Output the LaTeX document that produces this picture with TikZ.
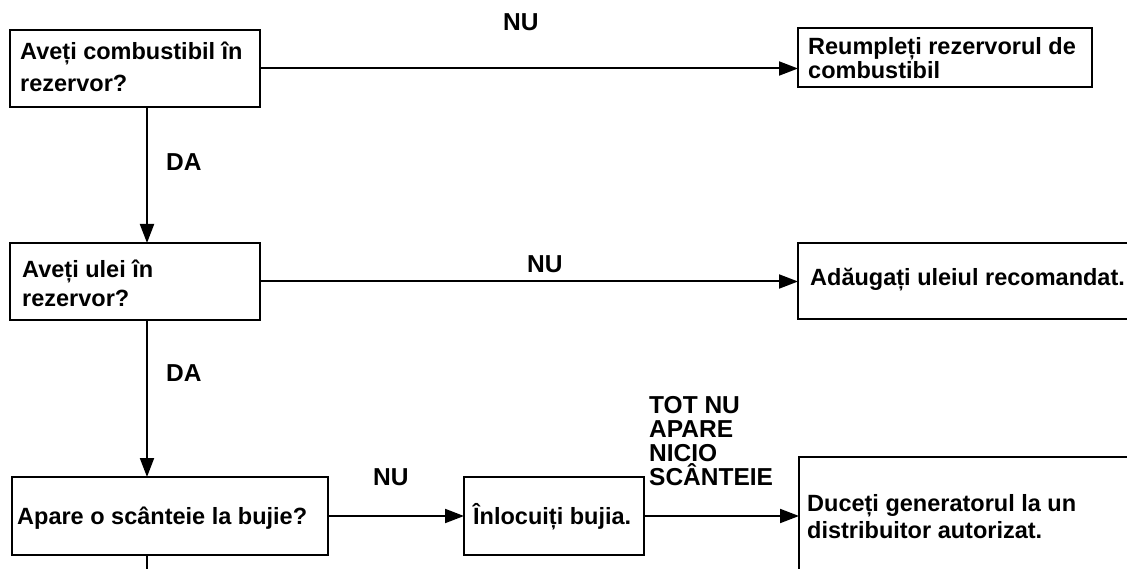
\documentclass[tikz,border=0pt]{standalone}
\usepackage{fontspec}
\setmainfont{Liberation Sans}
\usetikzlibrary{arrows.meta}
\begin{document}
\begin{tikzpicture}[x=1pt,y=-1pt,
  box/.style={draw, line width=2pt, rectangle, anchor=north west, inner sep=0pt, outer sep=0pt},
  txt/.style={font=\bfseries\fontsize{23.5}{28}\selectfont, anchor=base west, inner sep=0pt},
  lbl/.style={font=\bfseries\fontsize{24.5}{27}\selectfont, anchor=base west, inner sep=0pt},
  conn/.style={line width=2pt, -{Triangle[length=19pt,width=14pt]}},
  plain/.style={line width=2pt}]
\useasboundingbox (0,0) rectangle (1127,569);
\fill[white] (0,0) rectangle (1127,569);
\clip (0,0) rectangle (1127,569);

% boxes
\node[box, minimum width=250pt, minimum height=77pt] (b1) at (10,30) {};
\node[box, minimum width=294pt, minimum height=59pt] (b2) at (798,28) {};
\node[box, minimum width=250pt, minimum height=77pt] (b3) at (10,243) {};
\node[box, minimum width=360pt, minimum height=76pt] (b4) at (798,243) {};
\node[box, minimum width=316pt, minimum height=78pt] (b5) at (12,477) {};
\node[box, minimum width=180pt, minimum height=78pt] (b6) at (464,477) {};
\node[box, minimum width=360pt, minimum height=160pt] (b7) at (799,457) {};

% box texts
\node[txt] (t1a) at (20,60) {Aveți combustibil în};
\node[txt] (t1b) at (20,92) {rezervor?};
\node[txt] (t2a) at (808,55) {Reumpleți rezervorul de};
\node[txt] (t2b) at (808,79) {combustibil};
\node[txt] (t3a) at (22,278) {Aveți ulei în};
\node[txt] (t3b) at (22,306) {rezervor?};
\node[txt] (t4) at (810,286) {Adăugați uleiul recomandat.};
\node[txt] (t5) at (17,524) {Apare o scânteie la bujie?};
\node[txt] (t6) at (473,524) {Înlocuiți bujia.};
\node[txt] (t7a) at (807,511) {Duceți generatorul la un};
\node[txt] (t7b) at (807,538) {distribuitor autorizat.};

% labels
\node[lbl] (nu1) at (503,31) {NU};
\node[lbl] (da1) at (166,171) {DA};
\node[lbl] (nu2) at (527,273) {NU};
\node[lbl] (da2) at (166,381) {DA};
\node[lbl] (nu3) at (373,485) {NU};
\node[lbl] (tn1) at (649,413) {TOT NU};
\node[lbl] (tn2) at (649,437) {APARE};
\node[lbl] (tn3) at (649,461) {NICIO};
\node[lbl] (tn4) at (649,485) {SCÂNTEIE};

% connectors
\coordinate (vx) at (147,0);
\coordinate (bot) at (147,580);
\draw[conn] (b1.east) -- (b2.west |- b1.east);
\draw[conn] (b1.south -| vx) -- (b3.north -| vx);
\draw[conn] (b3.east) -- (b4.west |- b3.east);
\draw[conn] (b3.south -| vx) -- (b5.north -| vx);
\draw[plain] (b5.south -| vx) -- (bot);
\draw[conn] (b5.east) -- (b6.west);
\draw[conn] (b6.east) -- (b7.west |- b6.east);
\end{tikzpicture}
\end{document}
